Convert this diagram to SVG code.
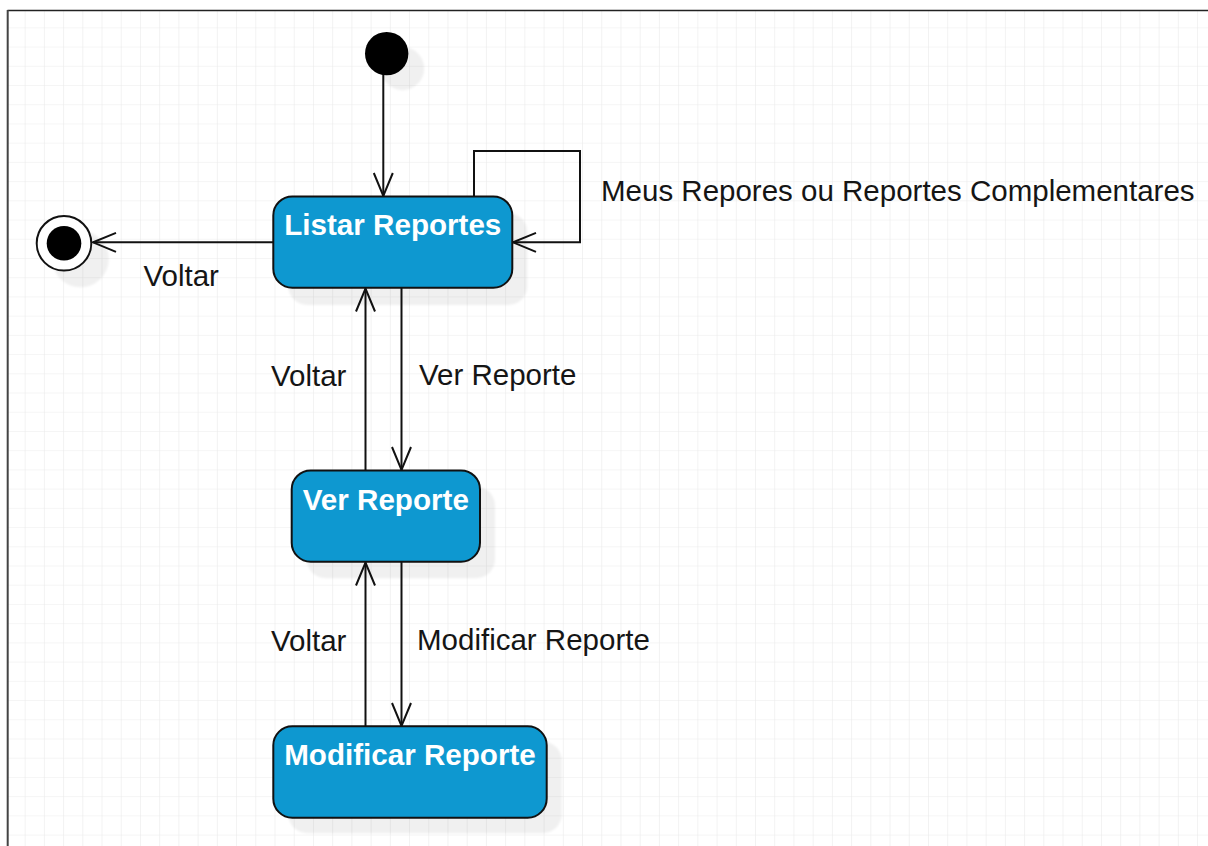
<svg xmlns="http://www.w3.org/2000/svg" width="1208" height="846" viewBox="0 0 1208 846">
  <defs>
    <pattern id="grid" patternUnits="userSpaceOnUse" x="6.4" y="9.1" width="19.22" height="19.22">
      <path d="M19.22 0 V19.22 M0 19.22 H19.22" fill="none" stroke="#ebebeb" stroke-width="1.2"/>
    </pattern>
    <filter id="soft" x="-20%" y="-20%" width="140%" height="140%">
      <feGaussianBlur stdDeviation="1.2"/>
    </filter>
    <marker id="open" markerUnits="userSpaceOnUse" viewBox="-26 -12 30 24" markerWidth="30" markerHeight="24" refX="0" refY="0" orient="auto">
      <path d="M-23 -9.5 L0 0 L-23 9.5" fill="none" stroke="#111" stroke-width="2"/>
    </marker>
    <style>
      .state { fill: #0e98d0; stroke: #111; stroke-width: 2; }
      .shadow { fill: #000; fill-opacity: 0.06; filter: url(#soft); }
      .title { font-family: "Liberation Sans", Arial, sans-serif; font-size: 29.6px; font-weight: bold; fill: #ffffff; text-anchor: middle; }
      .label { font-family: "Liberation Sans", Arial, sans-serif; font-size: 29.5px; fill: #151515; }
      .edge { fill: none; stroke: #111; stroke-width: 2; marker-end: url(#open); }
    </style>
  </defs>

  <!-- canvas -->
  <rect x="0" y="0" width="1208" height="846" fill="#ffffff"/>
  <rect x="8" y="10" width="1200" height="836" fill="url(#grid)"/>
  <line x1="7.5" y1="10.5" x2="1208" y2="10.5" stroke="#222" stroke-width="1.6"/>
  <line x1="7.7" y1="10" x2="7.7" y2="846" stroke="#444" stroke-width="2"/>

  <!-- connectors -->
  <g id="connectors">
    <path class="edge" d="M383.3 75 V196"/>
    <path class="edge" d="M273.3 242.3 H93"/>
    <path class="edge" d="M474 196 V151 H580 V242.3 H513"/>
    <path class="edge" d="M401.5 288 V470"/>
    <path class="edge" d="M365.5 470 V288.5"/>
    <path class="edge" d="M401.5 562 V726"/>
    <path class="edge" d="M365.5 726 V562.5"/>
    <text class="label" x="143.5" y="286">Voltar</text>
    <text class="label" x="601" y="201">Meus Repores ou Reportes Complementares</text>
    <text class="label" x="271" y="386">Voltar</text>
    <text class="label" x="419" y="385">Ver Reporte</text>
    <text class="label" x="271" y="651">Voltar</text>
    <text class="label" x="417" y="650">Modificar Reporte</text>
  </g>

  <!-- initial state -->
  <g id="initial">
    <circle class="shadow" cx="402.5" cy="68.5" r="21.7"/>
    <circle cx="386.7" cy="53.6" r="21.7" fill="#000"/>
  </g>

  <!-- final state -->
  <g id="final">
    <circle class="shadow" cx="80.5" cy="259" r="28.3"/>
    <circle cx="64" cy="243.3" r="27.3" fill="#fff" stroke="#111" stroke-width="2"/>
    <circle cx="64" cy="243.3" r="17.3" fill="#000"/>
  </g>

  <!-- Listar Reportes -->
  <g id="listar-reportes">
    <rect class="shadow" x="288.3" y="213" width="239" height="92" rx="19"/>
    <rect class="state" x="273.3" y="196.5" width="239" height="91.2" rx="19"/>
    <text class="title" x="392.8" y="235">Listar Reportes</text>
  </g>

  <!-- Ver Reporte -->
  <g id="ver-reporte">
    <rect class="shadow" x="306.7" y="486.5" width="188.3" height="91.7" rx="19"/>
    <rect class="state" x="291.7" y="470.5" width="188.3" height="91.2" rx="19"/>
    <text class="title" x="385.8" y="509.5">Ver Reporte</text>
  </g>

  <!-- Modificar Reporte -->
  <g id="modificar-reporte">
    <rect class="shadow" x="288.3" y="741.5" width="273.4" height="91.7" rx="19"/>
    <rect class="state" x="273.3" y="726.3" width="273.4" height="91.4" rx="19"/>
    <text class="title" x="410" y="765">Modificar Reporte</text>
  </g>
</svg>
